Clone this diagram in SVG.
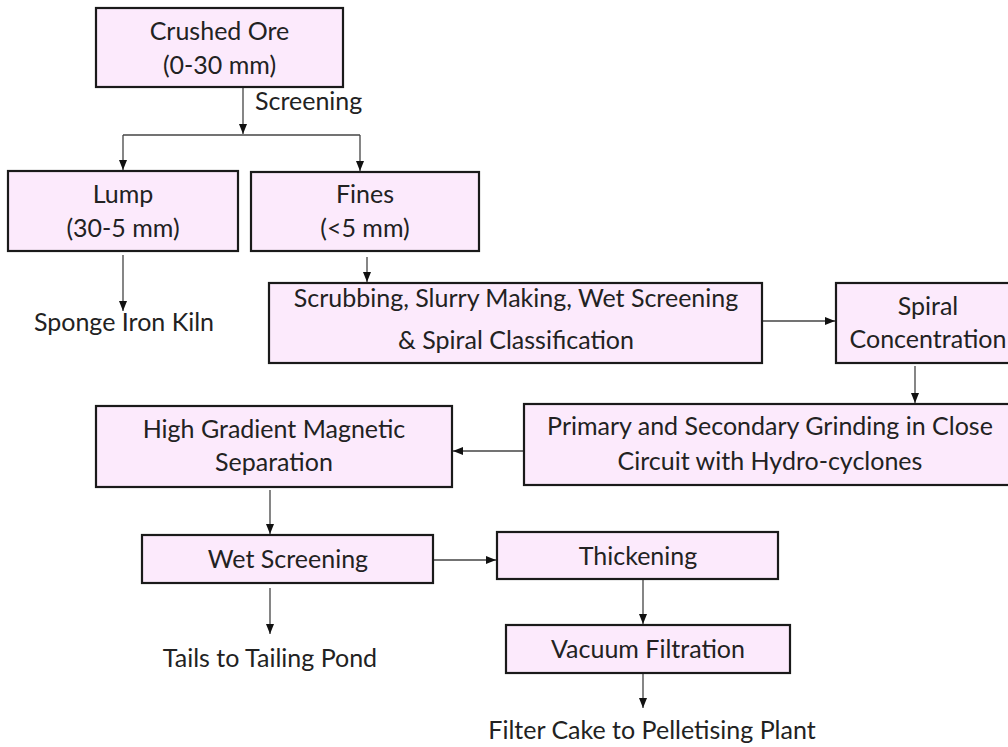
<svg xmlns="http://www.w3.org/2000/svg" width="1008" height="747" viewBox="0 0 1008 747">
<defs>
<style>
.box{fill:#FCEAFC;stroke:#1a1a1a;stroke-width:2.2}
.t{font-family:Lato,"Liberation Sans",sans-serif;font-size:25px;fill:#222;text-anchor:middle}
.ts{font-family:Lato,"Liberation Sans",sans-serif;font-size:25px;fill:#222}
.c{fill:none;stroke:#444;stroke-width:1.3}
</style>
<marker id="ah" markerUnits="userSpaceOnUse" markerWidth="10" markerHeight="10" viewBox="0 0 10 10" refX="10" refY="5" orient="auto">
<path d="M0,1 L10,5 L0,9 Z" fill="#111"/>
</marker>
</defs>
<rect width="1008" height="747" fill="#fff"/>
<g id="connectors">
<path class="c" d="M243,87 V134" marker-end="url(#ah)"/>
<path class="c" d="M123,135 H360"/>
<path class="c" d="M123,135 V170" marker-end="url(#ah)"/>
<path class="c" d="M360,135 V171" marker-end="url(#ah)"/>
<path class="c" d="M123,255 V311" marker-end="url(#ah)"/>
<path class="c" d="M367,257 V282" marker-end="url(#ah)"/>
<path class="c" d="M762,321 H835" marker-end="url(#ah)"/>
<path class="c" d="M915,366 V403" marker-end="url(#ah)"/>
<path class="c" d="M524,451 H453" marker-end="url(#ah)"/>
<path class="c" d="M270,490 V534" marker-end="url(#ah)"/>
<path class="c" d="M433,560 H496" marker-end="url(#ah)"/>
<path class="c" d="M270,588 V634" marker-end="url(#ah)"/>
<path class="c" d="M643,579 V624" marker-end="url(#ah)"/>
<path class="c" d="M643,673 V708" marker-end="url(#ah)"/>
</g>
<g id="crushed">
<rect class="box" x="96" y="8" width="247" height="79"/>
<text class="t" x="219.5" y="40">Crushed Ore</text>
<text class="t" x="219.5" y="74">(0-30 mm)</text>
</g>
<g id="screening-label">
<text class="ts" x="255" y="110">Screening</text>
</g>
<g id="lump">
<rect class="box" x="8" y="171" width="230" height="80"/>
<text class="t" x="123" y="203">Lump</text>
<text class="t" x="123" y="237">(30-5 mm)</text>
</g>
<g id="fines">
<rect class="box" x="251" y="172" width="228" height="79"/>
<text class="t" x="365" y="203">Fines</text>
<text class="t" x="365" y="237">(&lt;5 mm)</text>
</g>
<g id="kiln">
<text class="t" x="124" y="331">Sponge Iron Kiln</text>
</g>
<g id="scrubbing">
<rect class="box" x="269" y="283" width="493" height="80"/>
<text class="t" x="516" y="307">Scrubbing, Slurry Making, Wet Screening</text>
<text class="t" x="516" y="349">&amp; Spiral Classification</text>
</g>
<g id="spiral">
<rect class="box" x="836" y="283" width="184" height="80"/>
<text class="t" x="928" y="315">Spiral</text>
<text class="t" x="928" y="348">Concentration</text>
</g>
<g id="grinding">
<rect class="box" x="524" y="404" width="492" height="81"/>
<text class="t" x="770" y="435">Primary and Secondary Grinding in Close</text>
<text class="t" x="770" y="470">Circuit with Hydro-cyclones</text>
</g>
<g id="hgms">
<rect class="box" x="96" y="406" width="356" height="81"/>
<text class="t" x="274" y="438">High Gradient Magnetic</text>
<text class="t" x="274" y="471">Separation</text>
</g>
<g id="wetscreening">
<rect class="box" x="142" y="535" width="291" height="48"/>
<text class="t" x="288" y="568">Wet Screening</text>
</g>
<g id="thickening">
<rect class="box" x="497" y="532" width="281" height="47"/>
<text class="t" x="638" y="565">Thickening</text>
</g>
<g id="vacuum">
<rect class="box" x="506" y="625" width="284" height="48"/>
<text class="t" x="648" y="658">Vacuum Filtration</text>
</g>
<g id="tails">
<text class="t" x="270" y="667">Tails to Tailing Pond</text>
</g>
<g id="filtercake">
<text class="t" x="652" y="739">Filter Cake to Pelletising Plant</text>
</g>
</svg>
